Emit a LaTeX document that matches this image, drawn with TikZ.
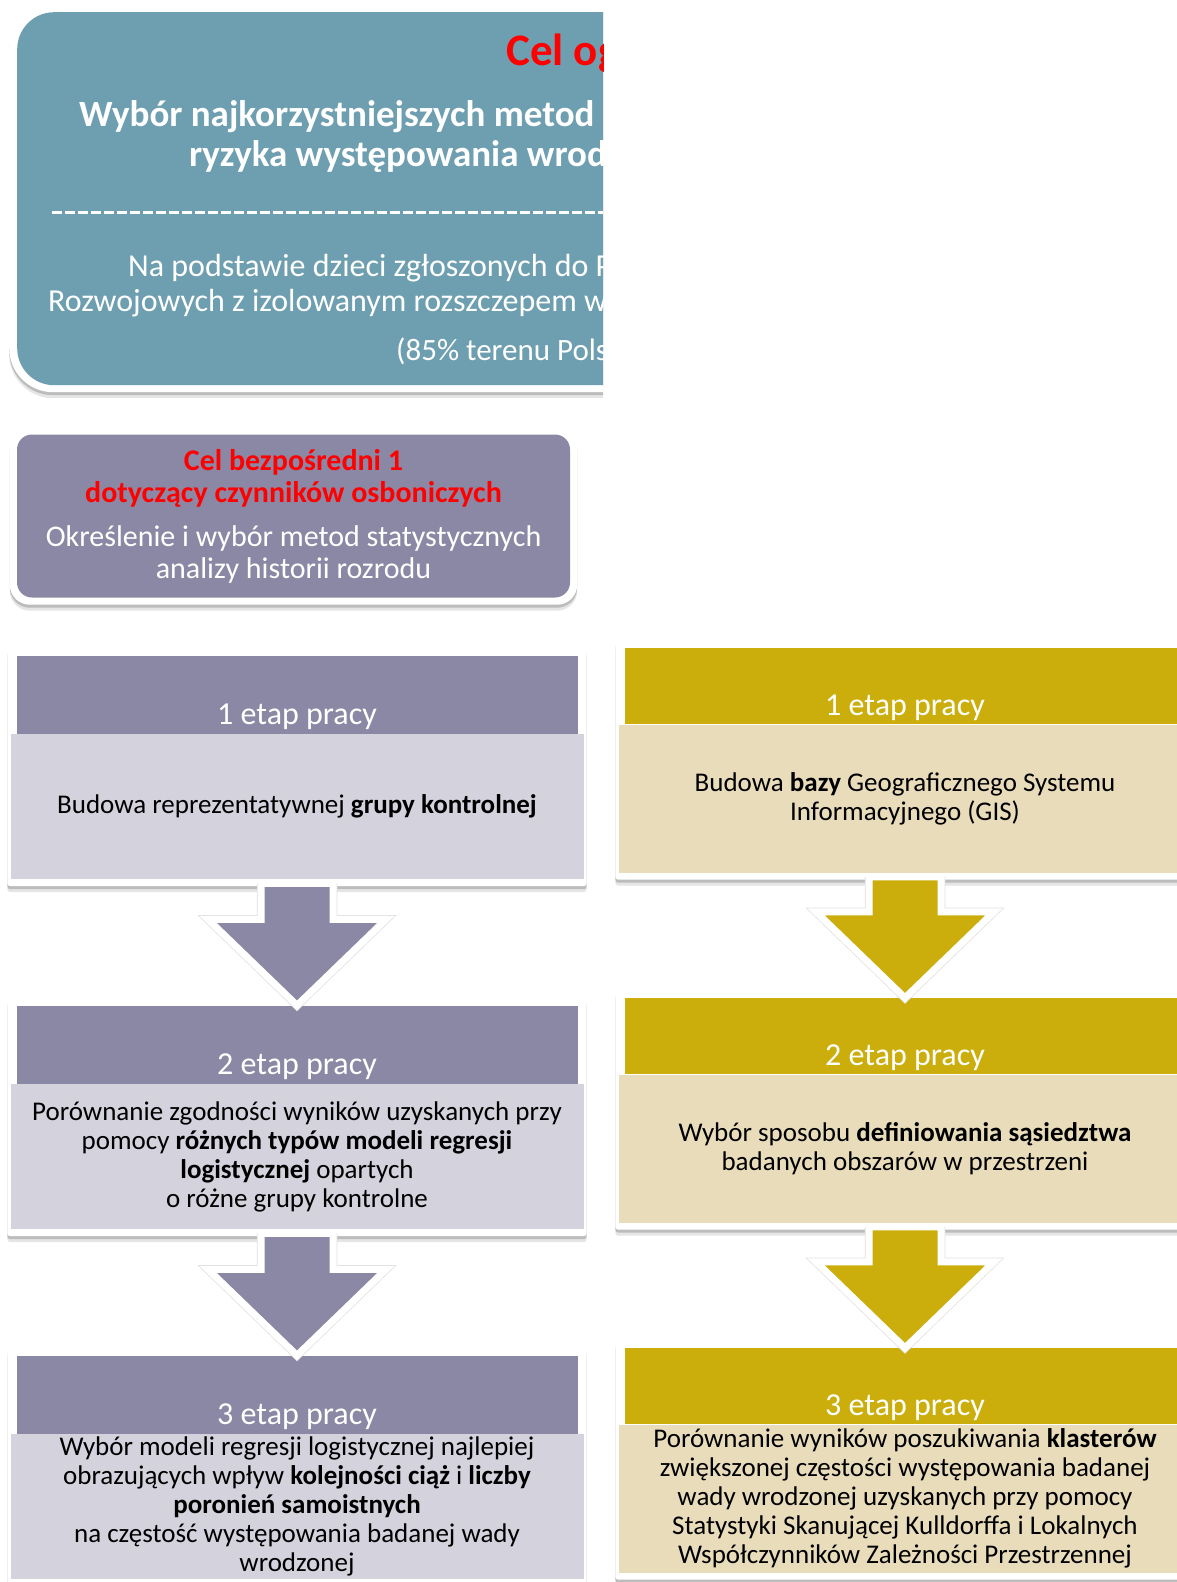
\documentclass[tikz,border=0pt]{standalone}
\usepackage{fontspec}
\setmainfont{Carlito}
\usetikzlibrary{positioning,calc,fit,backgrounds,shadows}

\definecolor{celteal}{RGB}{110,159,176}
\definecolor{celpurple}{RGB}{139,136,165}
\definecolor{bodypurple}{RGB}{211,210,221}
\definecolor{hdrgold}{RGB}{203,174,12}
\definecolor{bodygold}{RGB}{232,220,186}

\newcommand{\celred}[1]{\textcolor{red}{\textbf{#1}}}
% block arrow from the frame of one stage to the header of the next
\newcommand{\etaparrow}[3]{%
  \draw[black!12, line width=8.5pt, line join=miter, shift={(0.5,1.5)}]
    ($(#1.south)+(-36,-3)$) -- ($(#2.north)+(-36,-86)$) -- ($(#2.north)+(-89,-86)$)
    -- (#2.north) -- ($(#2.north)+(89,-86)$) -- ($(#2.north)+(36,-86)$)
    -- ($(#1.south)+(36,-3)$);
  \filldraw[fill=#3, draw=white, line width=7pt, line join=miter]
    ($(#1.south)+(-36,-3)$) -- ($(#2.north)+(-36,-86)$) -- ($(#2.north)+(-89,-86)$)
    -- (#2.north) -- ($(#2.north)+(89,-86)$) -- ($(#2.north)+(36,-86)$)
    -- ($(#1.south)+(36,-3)$) -- cycle;}

\begin{document}
\begin{tikzpicture}[x=1pt, y=-1pt,
  frame/.style={fill=white, rounded corners=3pt, inner xsep=3pt, inner ysep=7pt,
    drop shadow={shadow xshift=0pt, shadow yshift=-3pt, fill=black, opacity=.18},
    drop shadow={shadow xshift=0pt, shadow yshift=-6pt, fill=black, opacity=.10}},
  hdr/.style={rectangle, inner sep=0pt, minimum width=561pt, minimum height=78pt},
  body/.style={rectangle, inner sep=0pt, minimum width=573pt, minimum height=145pt,
    align=center, font=\fontsize{27}{29}\selectfont},
  hdrtxt/.style={inner sep=0pt, anchor=base, text=white, font=\fontsize{32}{38}\selectfont},
  toptxt/.style={inner sep=0pt, anchor=base west, text=white}]
\useasboundingbox (0,0) rectangle (1177,1582);

% cel ogolny (cut off at the right)
\begin{scope}
\clip (0,0) rectangle (603,420);
\node[frame, rounded corners=44pt, inner sep=0pt, anchor=north west, minimum width=1200pt, minimum height=388pt] (genf) at (9,4) {};
\node[fill=celteal, rounded corners=37pt, inner sep=0pt, anchor=north west, minimum width=1190pt, minimum height=373pt] (gen) at (17,12) {};
\node[toptxt, text=red, font=\fontsize{45}{52}\bfseries] (gen0) at (506,65) {Cel og};
\node[toptxt, font=\fontsize{37}{40}\bfseries] (gen1) at (79,126.5) {Wybór najkorzystniejszych metod};
\node[toptxt, font=\fontsize{37}{40}\bfseries] (gen2) at (189,166.5) {ryzyka występowania wrod};
\draw[white, line width=3pt, dash pattern=on 10pt off 3pt] (52,212) -- (603,212);
\node[toptxt, font=\fontsize{32}{35}\selectfont] (gen3) at (128,276) {Na podstawie dzieci zgłoszonych do P};
\node[toptxt, font=\fontsize{32}{35}\selectfont] (gen4) at (48,311) {Rozwojowych z izolowanym rozszczepem w};
\node[toptxt, font=\fontsize{31}{35}\selectfont] (gen5) at (396,360) {(85\% terenu Pols};
\end{scope}

% cel bezposredni 1
\node[fill=celpurple, rounded corners=15pt, minimum width=553pt, minimum height=163pt, align=center, text=white, font=\fontsize{30}{32}\selectfont] (cel1) at (293.5,516)
  {\celred{Cel bezpośredni 1}\\ \celred{dotyczący czynników osboniczych}\\[12pt] Określenie i wybór metod statystycznych\\ analizy historii rozrodu};

% left column
\node[body, fill=bodypurple] (lb1) at (297,806.5) {Budowa reprezentatywnej \textbf{grupy kontrolnej}};
\node[hdr, fill=celpurple, above=0pt of lb1] (lh1) {};
\node[hdrtxt] (lt1) at ([yshift=9pt]lh1.south) {1 etap pracy};
\node[body, fill=bodypurple] (lb2) at (297,1156.5) {Porównanie zgodności wyników uzyskanych przy\\ pomocy \textbf{różnych typów modeli regresji}\\ \textbf{logistycznej} opartych\\ o różne grupy kontrolne};
\node[hdr, fill=celpurple, above=0pt of lb2] (lh2) {};
\node[hdrtxt] (lt2) at ([yshift=9pt]lh2.south) {2 etap pracy};
\node[body, fill=bodypurple] (lb3) at (297,1506.5) {Wybór modeli regresji logistycznej najlepiej\\ obrazujących wpływ \textbf{kolejności ciąż} i \textbf{liczby}\\ \textbf{poronień samoistnych}\\ na częstość występowania badanej wady\\ wrodzonej};
\node[hdr, fill=celpurple, above=0pt of lb3] (lh3) {};
\node[hdrtxt] (lt3) at ([yshift=9pt]lh3.south) {3 etap pracy};

% right column
\node[body, fill=bodygold, minimum height=148pt] (rb1) at (905,798.5) {Budowa \textbf{bazy} Geograficznego Systemu\\ Informacyjnego (GIS)};
\node[hdr, fill=hdrgold, minimum height=76pt, above=0pt of rb1] (rh1) {};
\node[hdrtxt] (rt1) at ([yshift=9pt]rh1.south) {1 etap pracy};
\node[body, fill=bodygold, minimum height=148pt] (rb2) at (905,1148.5) {Wybór sposobu \textbf{definiowania sąsiedztwa}\\ badanych obszarów w przestrzeni};
\node[hdr, fill=hdrgold, minimum height=76pt, above=0pt of rb2] (rh2) {};
\node[hdrtxt] (rt2) at ([yshift=9pt]rh2.south) {2 etap pracy};
\node[body, fill=bodygold, minimum height=148pt] (rb3) at (905,1498.5) {Porównanie wyników poszukiwania \textbf{klasterów}\\ zwiększonej częstości występowania badanej\\ wady wrodzonej uzyskanych przy pomocy\\ Statystyki Skanującej Kulldorffa i Lokalnych\\ Współczynników Zależności Przestrzennej};
\node[hdr, fill=hdrgold, minimum height=76pt, above=0pt of rb3] (rh3) {};
\node[hdrtxt] (rt3) at ([yshift=9pt]rh3.south) {3 etap pracy};

\begin{scope}[on background layer]
\node[frame, rounded corners=20pt, inner sep=7pt, fit=(cel1)] (celf) {};
\node[frame, fit=(lh1)(lb1)] (lf1) {};
\node[frame, fit=(lh2)(lb2)] (lf2) {};
\node[frame, fit=(lh3)(lb3)] (lf3) {};
\node[frame, fit=(rh1)(rb1)] (rf1) {};
\node[frame, fit=(rh2)(rb2)] (rf2) {};
\node[frame, fit=(rh3)(rb3)] (rf3) {};
\end{scope}

\etaparrow{lf1}{lh2}{celpurple}
\etaparrow{lf2}{lh3}{celpurple}
\etaparrow{rf1}{rh2}{hdrgold}
\etaparrow{rf2}{rh3}{hdrgold}
\end{tikzpicture}
\end{document}
